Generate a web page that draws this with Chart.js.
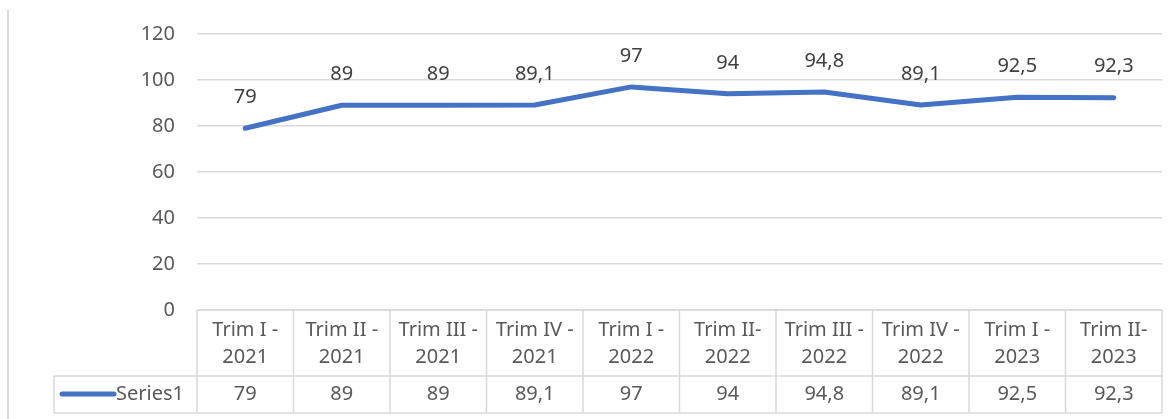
<!DOCTYPE html>
<html lang="en">
<head>
    <meta charset="UTF-8">
    <title>Series1 - Trim</title>
    <script src="https://cdn.jsdelivr.net/npm/chart.js"></script>
    <style>
        body { margin: 0; background: #fff; }
        #wrap { position: relative; width: 1174px; height: 419px; }
    </style>
</head>
<body>
    <div id="wrap">
        <canvas id="myChart" width="1174" height="419"></canvas>
    </div>
    <script>
        // data
        const quarters = ['Trim I -', 'Trim II -', 'Trim III -', 'Trim IV -', 'Trim I -', 'Trim II-', 'Trim III -', 'Trim IV -', 'Trim I -', 'Trim II-'];
        const years = ['2021', '2021', '2021', '2021', '2022', '2022', '2022', '2022', '2023', '2023'];
        const series1 = [79, 89, 89, 89.1, 97, 94, 94.8, 89.1, 92.5, 92.3];
        const seriesName = 'Series1';
        const yTicks = [0, 20, 40, 60, 80, 100, 120];

        const labels = quarters.map((q, i) => q + ' ' + years[i]);
        const FONT = '"Noto Sans", "Open Sans", sans-serif';
        const fmt = v => String(v).replace('.', ',');

        // value labels above the line points
        const valueLabels = {
            id: 'valueLabels',
            afterDatasetsDraw(chart) {
                const ctx = chart.ctx;
                const meta = chart.getDatasetMeta(0);
                ctx.save();
                ctx.font = '20px ' + FONT;
                ctx.fillStyle = '#404040';
                ctx.textAlign = 'center';
                ctx.textBaseline = 'middle';
                meta.data.forEach((pt, i) => {
                    ctx.fillText(fmt(series1[i]), pt.x, pt.y - 31);
                });
                ctx.restore();
            }
        };

        // excel style data table below the plot
        const dataTable = {
            id: 'dataTable',
            afterDraw(chart) {
                const ctx = chart.ctx;
                const x = chart.scales.x;
                const area = chart.chartArea;
                const top = area.bottom;
                const mid = top + 66;
                const bot = top + 103;
                const leftCol = 54;
                const step = (area.right - area.left) / labels.length;

                ctx.save();
                ctx.strokeStyle = '#d9d9d9';
                ctx.lineWidth = 1.5;
                ctx.beginPath();
                // horizontal lines
                ctx.moveTo(area.left, top); ctx.lineTo(area.right, top);
                ctx.moveTo(leftCol, mid); ctx.lineTo(area.right, mid);
                ctx.moveTo(leftCol, bot); ctx.lineTo(area.right, bot);
                // vertical lines
                ctx.moveTo(leftCol, mid); ctx.lineTo(leftCol, bot);
                for (let i = 0; i <= labels.length; i++) {
                    const vx = area.left + i * step;
                    ctx.moveTo(vx, top); ctx.lineTo(vx, bot);
                }
                ctx.stroke();

                ctx.font = '20px ' + FONT;
                ctx.fillStyle = '#595959';
                ctx.textAlign = 'center';
                ctx.textBaseline = 'middle';
                labels.forEach((l, i) => {
                    const cx = x.getPixelForValue(i);
                    ctx.fillText(quarters[i], cx, top + 20);
                    ctx.fillText(years[i], cx, top + 47);
                    ctx.fillText(fmt(series1[i]), cx, mid + 18);
                });

                // legend key
                ctx.strokeStyle = '#4472C4';
                ctx.lineWidth = 5;
                ctx.lineCap = 'round';
                ctx.beginPath();
                ctx.moveTo(62, mid + 18);
                ctx.lineTo(114, mid + 18);
                ctx.stroke();
                ctx.textAlign = 'left';
                ctx.fillText(seriesName, 116, mid + 18);

                // outer border at the left
                ctx.strokeStyle = '#d9d9d9';
                ctx.lineWidth = 2;
                ctx.lineCap = 'butt';
                ctx.beginPath();
                ctx.moveTo(8, 10);
                ctx.lineTo(8, 419);
                ctx.stroke();
                ctx.restore();
            }
        };

        const ctx = document.getElementById('myChart').getContext('2d');
        const myChart = new Chart(ctx, {
            type: 'line',
            data: {
                labels: labels,
                datasets: [{
                    label: seriesName,
                    data: series1,
                    borderColor: '#4472C4',
                    borderWidth: 5,
                    pointRadius: 0,
                    tension: 0,
                    borderCapStyle: 'round',
                    borderJoinStyle: 'round'
                }]
            },
            options: {
                responsive: false,
                animation: false,
                layout: { padding: { top: 33, bottom: 109, right: 12, left: 0 } },
                scales: {
                    x: {
                        display: false,
                        offset: true
                    },
                    y: {
                        min: 0,
                        max: 120,
                        afterBuildTicks: s => { s.ticks = yTicks.map(v => ({ value: v })); },
                        afterFit: s => { s.width = 197; },
                        border: { display: false },
                        grid: { color: '#d9d9d9', lineWidth: 1.5, drawTicks: false },
                        ticks: {
                            padding: 22,
                            color: '#595959',
                            font: { size: 20, family: FONT }
                        }
                    }
                },
                plugins: {
                    legend: { display: false },
                    tooltip: { enabled: false }
                }
            },
            plugins: [valueLabels, dataTable]
        });
    </script>
</body>
</html>
